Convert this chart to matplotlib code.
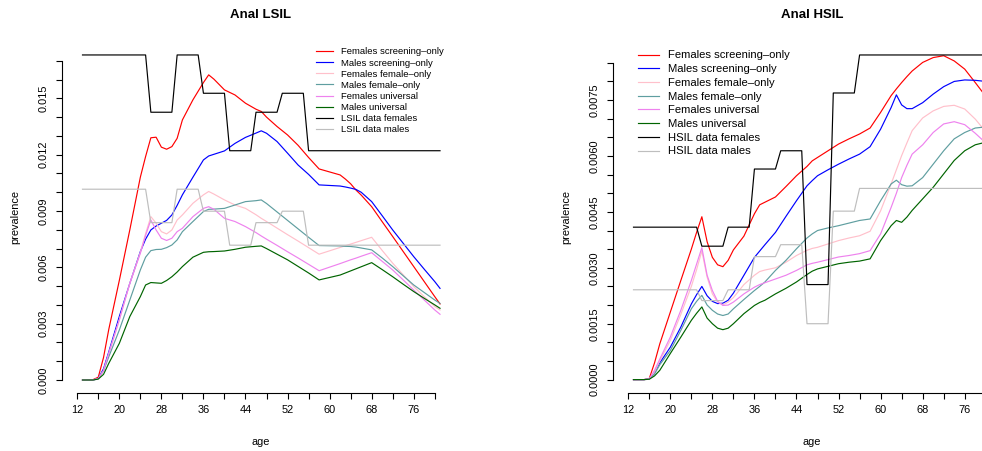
import numpy as np
import matplotlib.pyplot as plt

plt.rcParams['font.family'] = ['Liberation Sans', 'DejaVu Sans']

# ages at which the model curves are read (same grid for both panels)
ages = [13, 15, 16, 17, 18, 20, 22, 24, 25, 26, 27, 28, 29, 30, 31, 32, 34, 36, 37, 38,
        40, 42, 44, 46, 47, 48, 50, 52, 54, 56, 58, 60, 62, 63, 64, 65, 66, 68, 70, 72,
        74, 76, 78, 80, 81]

# ---- Anal LSIL model curves (per 1000) ----
lsil_f_screen = [0, 0.02, 0.15, 1.2, 2.7, 5.3, 8.0, 10.8, 11.9, 12.9, 12.93, 12.4, 12.29, 12.43, 12.87,
                 13.85, 14.92, 15.84, 16.25, 16.02, 15.45, 15.18, 14.74, 14.42, 14.3, 14.0, 13.5, 13.05,
                 12.5, 11.85, 11.24, 11.08, 10.92, 10.7, 10.45, 10.12, 9.85, 9.23, 8.43, 7.64, 6.84,
                 6.04, 5.24, 4.44, 4.05]
lsil_m_screen = [0, 0, 0.08, 0.6, 1.5, 3.38, 5.15, 6.84, 7.5, 7.99, 8.2, 8.35, 8.5, 8.79, 9.3, 9.86,
                 10.8, 11.72, 11.93, 12.02, 12.2, 12.6, 12.92, 13.15, 13.27, 13.14, 12.7, 12.08, 11.45,
                 10.95, 10.39, 10.36, 10.33, 10.28, 10.22, 10.15, 10.0, 9.5, 8.75, 7.99, 7.28, 6.57,
                 5.9, 5.24, 4.88]
lsil_f_female = [0, 0, 0.08, 0.5, 1.4, 3.2, 5.15, 6.8, 7.8, 8.7, 8.35, 7.9, 7.78, 7.99, 8.52, 8.79,
                 9.41, 9.86, 10.04, 9.9, 9.59, 9.32, 9.14, 8.8, 8.61, 8.44, 8.09, 7.74, 7.4, 7.05,
                 6.70, 6.88, 7.06, 7.15, 7.24, 7.33, 7.42, 7.60, 6.9, 6.22, 5.6, 4.97, 4.44, 3.91, 3.73]
lsil_m_female = [0, 0, 0.08, 0.5, 1.24, 2.66, 4.26, 5.86, 6.54, 6.89, 6.95, 6.96, 7.05, 7.19, 7.46,
                 7.90, 8.44, 8.97, 9.09, 9.1, 9.14, 9.32, 9.50, 9.55, 9.59, 9.4, 8.95, 8.5, 8.05, 7.6,
                 7.16, 7.15, 7.14, 7.12, 7.11, 7.08, 7.03, 6.93, 6.5, 6.04, 5.55, 5.06, 4.66, 4.26, 4.08]
lsil_f_univ = [0, 0, 0.08, 0.5, 1.42, 3.2, 5.15, 6.75, 7.7, 8.52, 7.99, 7.55, 7.43, 7.55, 7.90, 8.08,
               8.70, 9.14, 9.23, 9.09, 8.61, 8.44, 8.17, 7.85, 7.67, 7.5, 7.17, 6.83, 6.5, 6.16, 5.82,
               6.01, 6.2, 6.3, 6.4, 6.49, 6.59, 6.78, 6.32, 5.86, 5.33, 4.79, 4.26, 3.73, 3.50]
lsil_m_univ = [0, 0, 0.05, 0.3, 0.89, 1.95, 3.38, 4.44, 5.06, 5.19, 5.17, 5.15, 5.3, 5.5, 5.75, 6.04,
               6.54, 6.80, 6.83, 6.84, 6.87, 6.96, 7.07, 7.12, 7.14, 7.0, 6.7, 6.4, 6.05, 5.7, 5.33,
               5.46, 5.59, 5.7, 5.81, 5.92, 6.03, 6.25, 5.88, 5.50, 5.1, 4.71, 4.35, 4.0, 3.82]

# ---- Anal HSIL model curves (per 1000) ----
hsil_f_screen = [0, 0, 0.03, 0.45, 0.96, 1.81, 2.66, 3.5, 3.95, 4.37, 3.7, 3.28, 3.08, 3.03, 3.2,
                 3.48, 3.85, 4.45, 4.69, 4.76, 4.9, 5.18, 5.47, 5.72, 5.87, 5.96, 6.14, 6.32, 6.46,
                 6.59, 6.75, 7.17, 7.62, 7.8, 7.97, 8.13, 8.28, 8.51, 8.64, 8.69, 8.55, 8.33, 7.97,
                 7.6, 7.3]
hsil_m_screen = [0, 0, 0.02, 0.2, 0.45, 0.87, 1.41, 2.03, 2.28, 2.50, 2.25, 2.1, 2.04, 2.05, 2.13,
                 2.32, 2.8, 3.28, 3.45, 3.62, 3.95, 4.38, 4.80, 5.2, 5.34, 5.47, 5.63, 5.78, 5.92,
                 6.05, 6.25, 6.72, 7.30, 7.64, 7.37, 7.27, 7.27, 7.43, 7.66, 7.86, 8.0, 8.04, 8.03,
                 8.0, 7.95]
hsil_f_female = [0, 0, 0.02, 0.2, 0.5, 1.05, 1.75, 2.5, 2.95, 3.45, 2.75, 2.3, 2.08, 2.01, 2.08, 2.2,
                 2.55, 2.8, 2.9, 2.94, 3.0, 3.15, 3.33, 3.47, 3.52, 3.55, 3.64, 3.73, 3.8, 3.86, 3.98,
                 4.53, 5.25, 5.63, 6.01, 6.35, 6.68, 7.02, 7.21, 7.33, 7.36, 7.26, 6.99, 6.65, 6.4]
hsil_m_female = [0, 0, 0.02, 0.15, 0.4, 0.78, 1.32, 1.9, 2.1, 2.26, 2.0, 1.86, 1.76, 1.72, 1.76, 1.9,
                 2.15, 2.39, 2.5, 2.62, 2.93, 3.2, 3.51, 3.8, 3.91, 4.0, 4.07, 4.13, 4.2, 4.27, 4.31,
                 4.80, 5.25, 5.35, 5.23, 5.19, 5.20, 5.42, 5.78, 6.14, 6.46, 6.63, 6.75, 6.78, 6.8]
hsil_f_univ = [0, 0, 0.02, 0.25, 0.55, 1.14, 1.86, 2.66, 3.1, 3.54, 2.8, 2.39, 2.1, 1.99, 2.0, 2.08,
               2.3, 2.48, 2.55, 2.6, 2.70, 2.8, 2.93, 3.08, 3.12, 3.15, 3.22, 3.29, 3.33, 3.38, 3.46,
               3.91, 4.62, 5.0, 5.42, 5.75, 6.05, 6.30, 6.63, 6.86, 6.92, 6.84, 6.61, 6.35, 6.1]
hsil_m_univ = [0, 0, 0.01, 0.1, 0.25, 0.70, 1.14, 1.59, 1.78, 1.95, 1.65, 1.5, 1.38, 1.34, 1.38, 1.5,
               1.77, 1.99, 2.07, 2.13, 2.30, 2.45, 2.62, 2.82, 2.91, 2.97, 3.04, 3.11, 3.15, 3.18, 3.24,
               3.73, 4.13, 4.27, 4.22, 4.36, 4.54, 4.85, 5.16, 5.52, 5.88, 6.14, 6.30, 6.37, 6.4]

# ---- observed data by age group ----
group_start = [13, 26, 31, 36, 41, 46, 51, 56]
group_end = [25, 30, 35, 40, 45, 50, 55, 81]
lsil_data_f = [0.01731, 0.01426, 0.01731, 0.01527, 0.01221, 0.01426, 0.01527, 0.01221]
lsil_data_m = [0.01016, 0.00838, 0.01016, 0.00899, 0.00718, 0.00838, 0.00899, 0.00718]
hsil_data_f = [0.00409, 0.00358, 0.00409, 0.00565, 0.00614, 0.00255, 0.00769, 0.00871]
hsil_data_m = [0.00241, 0.00212, 0.00241, 0.00330, 0.00362, 0.00150, 0.00452, 0.00513]

series_colors = ["#FF0000", "#0000FF", "#FFC0CB", "#5F9EA0", "#EE82EE", "#006400", "#000000", "#BEBEBE"]
model_names = ["Females screening\u2013only", "Males screening\u2013only", "Females female\u2013only",
               "Males female\u2013only", "Females universal", "Males universal"]

W, H = 982, 451


def group_line(values):
    # corner points of the age-group step line
    xs, ys = [], []
    for s, e, v in zip(group_start, group_end, values):
        xs += [s, e]
        ys += [v, v]
    return xs, ys


def draw_panel(ax, title, models, data_f, data_m, data_tag, yticks, ylabels, ylim, leg):
    lw = 0.85
    for vals, c, name in zip(models, series_colors, model_names):
        ax.plot(ages, np.array(vals) / 1000.0, color=c, lw=lw, label=name)
    xs, ys = group_line(data_f)
    ax.plot(xs, ys, color=series_colors[6], lw=lw, label=data_tag + " data females")
    xs, ys = group_line(data_m)
    ax.plot(xs, ys, color=series_colors[7], lw=lw, label=data_tag + " data males")

    ax.set_xlim(9.1, 84.8)
    ax.set_ylim(*ylim)
    for s in ["top", "right"]:
        ax.spines[s].set_visible(False)
    ax.spines["left"].set_bounds(yticks[0], yticks[-1])
    ax.spines["bottom"].set_bounds(12, 80)
    for s in ["left", "bottom"]:
        ax.spines[s].set_linewidth(0.8)

    xt = list(range(12, 81, 4))
    ax.set_xticks(xt)
    ax.set_xticklabels([str(v) if (v - 12) % 8 == 0 else "" for v in xt])
    ax.set_yticks(yticks)
    ax.set_yticklabels(ylabels)
    ax.tick_params(axis="both", length=4.2, width=0.8, labelsize=7.9, color="black")
    ax.tick_params(axis="x", pad=4.5)
    ax.tick_params(axis="y", pad=5.5, labelrotation=90)
    for lab in ax.get_yticklabels():
        lab.set_va("center")

    ax.set_xlabel("age", fontsize=7.9)
    ax.xaxis.set_label_coords(0.5, -0.139)
    ax.xaxis.label.set_va("center")
    ax.set_ylabel("prevalence", fontsize=7.9)
    ax.yaxis.set_label_coords(-0.117, 0.5)
    ax.yaxis.label.set_va("center")
    ax.yaxis.label.set_ha("center")

    ax.text(0.5, (393 - 15) / 351, title, transform=ax.transAxes, ha="center", va="center",
            fontsize=9.5, fontweight="bold")

    fs, x0, y0, hl, tp, ls = leg
    ax.legend(loc="upper left", bbox_to_anchor=(x0 / W, 1 - y0 / H), bbox_transform=ax.figure.transFigure,
              frameon=False, fontsize=fs, borderpad=0, borderaxespad=0, handlelength=hl,
              handletextpad=tp, labelspacing=ls)


fig = plt.figure(figsize=(W / 100, H / 100), dpi=100)
ax1 = fig.add_axes([62 / W, (H - 393) / H, 398 / W, 351 / H])
ax2 = fig.add_axes([613 / W, (H - 393) / H, 398 / W, 351 / H])

lsil_yt = [i / 1000 for i in range(0, 18)]
lsil_yl = ["%.3f" % v if i % 3 == 0 else "" for i, v in enumerate(lsil_yt)]
hsil_yt = [i * 0.0005 for i in range(0, 18)]
hsil_yl = ["%.4f" % v if i % 3 == 0 else "" for i, v in enumerate(hsil_yt)]

draw_panel(ax1, "Anal LSIL",
           [lsil_f_screen, lsil_m_screen, lsil_f_female, lsil_m_female, lsil_f_univ, lsil_m_univ],
           lsil_data_f, lsil_data_m, "LSIL", lsil_yt, lsil_yl, (-0.000692, 0.0180),
           (6.8, 316, 47.5, 1.8, 0.85, 0.22))
draw_panel(ax2, "Anal HSIL",
           [hsil_f_screen, hsil_m_screen, hsil_f_female, hsil_m_female, hsil_f_univ, hsil_m_univ],
           hsil_data_f, hsil_data_m, "HSIL", hsil_yt, hsil_yl, (-0.000359, 0.009058),
           (8.1, 638, 50.5, 1.87, 0.83, 0.33))

fig.savefig("out.png", dpi=100)
